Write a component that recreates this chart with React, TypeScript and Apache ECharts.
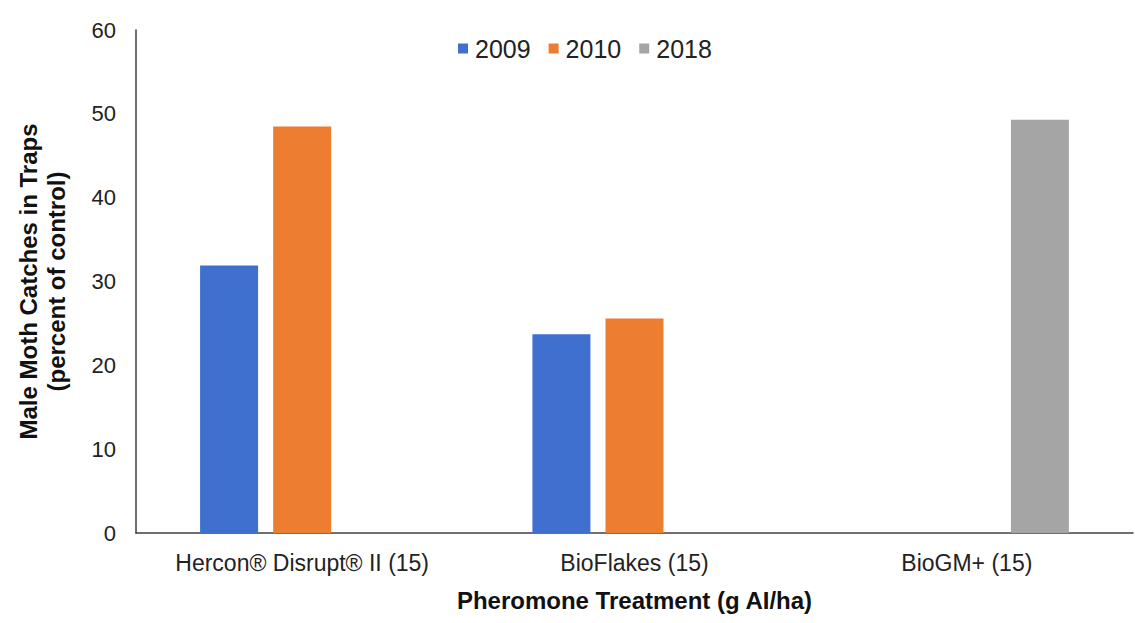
import React, { useEffect, useRef } from "react";
import * as echarts from "echarts";

const categories = ["Hercon® Disrupt® II (15)", "BioFlakes (15)", "BioGM+ (15)"];
const seriesNames = ["2009", "2010", "2018"];
const values2009 = [31.9, 23.7, null];
const values2010 = [48.5, 25.6, null];
const values2018 = [null, null, 49.3];
const colors = ["#3F6FCF", "#ED7D31", "#A5A5A5"];

export default function App() {
  const ref = useRef<HTMLDivElement>(null);
  useEffect(() => {
    if (!ref.current) return;
    const chart = echarts.init(ref.current, null, { renderer: "svg" });
    const font = "'Liberation Sans', Arial, sans-serif";
    const data = [values2009, values2010, values2018];
    chart.setOption({
      animation: false,
      textStyle: { fontFamily: font },
      legend: {
        data: seriesNames,
        left: 453,
        top: 31,
        itemWidth: 10,
        itemHeight: 10,
        itemGap: 18,
        icon: "rect",
        textStyle: { fontSize: 25, color: "#222", fontFamily: font, padding: [0, 0, 0, 2] },
      },
      grid: { left: 136, right: 2, top: 30, bottom: 90, containLabel: false },
      xAxis: {
        type: "category",
        data: categories,
        name: "Pheromone Treatment (g AI/ha)",
        nameLocation: "middle",
        nameGap: 55,
        nameTextStyle: { fontSize: 24, fontWeight: "bold", color: "#111", fontFamily: font },
        axisLine: { lineStyle: { color: "#404040", width: 1.5 } },
        axisTick: { show: false },
        axisLabel: { fontSize: 23, color: "#222", margin: 18, fontFamily: font },
      },
      yAxis: {
        type: "value",
        min: 0,
        max: 60,
        interval: 10,
        name: "Male Moth Catches in Traps\n(percent of control)",
        nameLocation: "middle",
        nameGap: 66,
        nameTextStyle: { fontSize: 24, fontWeight: "bold", color: "#111", lineHeight: 28, fontFamily: font },
        axisLine: { show: true, lineStyle: { color: "#404040", width: 1.5 } },
        axisTick: { show: false },
        splitLine: { show: false },
        axisLabel: { fontSize: 22, color: "#222", margin: 20, fontFamily: font },
      },
      series: seriesNames.map((name, i) => ({
        name,
        type: "bar",
        data: data[i],
        barWidth: 58,
        barGap: "26%",
        itemStyle: { color: colors[i] },
      })),
    });
    return () => chart.dispose();
  }, []);
  return <div ref={ref} style={{ width: 1135, height: 623, position: "absolute", left: 0, top: 0 }} />;
}
